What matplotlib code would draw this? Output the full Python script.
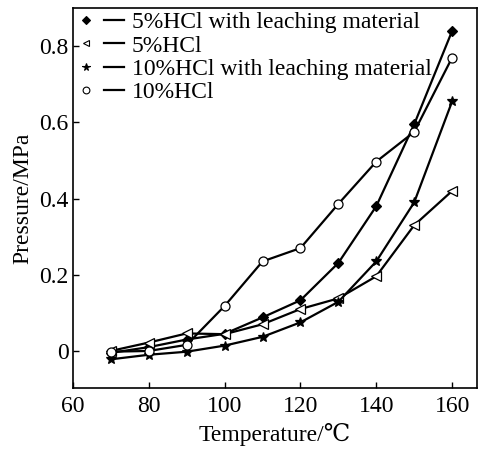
import numpy as np
import matplotlib as mpl
import matplotlib.pyplot as plt
from matplotlib.lines import Line2D
from matplotlib.legend_handler import HandlerTuple
from matplotlib.ticker import FuncFormatter

mpl.rcParams['font.family'] = ['Liberation Serif', 'DejaVu Serif']
mpl.rcParams['font.size'] = 17

temperature = [70, 80, 90, 100, 110, 120, 130, 140, 150, 160]
hcl5_leach = [-0.005, 0.01, 0.03, 0.045, 0.088, 0.133, 0.231, 0.38, 0.595, 0.84]
hcl5 = [0.0, 0.022, 0.046, 0.044, 0.07, 0.11, 0.138, 0.196, 0.33, 0.42]
hcl10_leach = [-0.022, -0.01, -0.002, 0.014, 0.037, 0.075, 0.129, 0.235, 0.39, 0.655]
hcl10 = [-0.002, 0.0, 0.016, 0.118, 0.235, 0.27, 0.386, 0.497, 0.575, 0.77]

labels = ['5%HCl with leaching material', '5%HCl',
          '10%HCl with leaching material', '10%HCl']
series = [hcl5_leach, hcl5, hcl10_leach, hcl10]
markers = ['D', '<', '*', 'o']
msizes = [5.5, 6.5, 7.5, 6.5]
mfaces = ['black', 'white', 'black', 'white']

fig = plt.figure(figsize=(4.86, 4.5), dpi=100)
ax = fig.add_axes([0.150, 0.138, 0.831, 0.844])

handles = []
for y, m, ms, mf in zip(series, markers, msizes, mfaces):
    ax.plot(temperature, y, color='black', lw=1.6, marker=m, ms=ms,
            mfc=mf, mec='black', mew=0.9)
    h_mark = Line2D([], [], ls='none', marker=m, ms=ms * 0.75, mfc=mf,
                    mec='black', mew=0.8)
    h_line = Line2D([], [], color='black', lw=1.6)
    handles.append((h_mark, h_line))

ax.legend(handles, labels, handler_map={tuple: HandlerTuple(ndivide=None, pad=0.3)},
          loc='upper left', frameon=False, handlelength=2.0, handletextpad=0.35,
          labelspacing=0.08, borderaxespad=0.05, borderpad=0.1, fontsize=17)

ax.set_xlim(60, 166.5)
ax.set_ylim(-0.097, 0.9)
ax.set_xticks([60, 80, 100, 120, 140, 160])
ax.set_yticks([0, 0.2, 0.4, 0.6, 0.8])
ax.yaxis.set_major_formatter(FuncFormatter(lambda v, p: '0' if abs(v) < 1e-9 else f'{v:.1f}'))
ax.tick_params(direction='in', length=4, width=1, labelsize=17)
ax.tick_params(axis='x', pad=6)
ax.tick_params(axis='y', pad=3)
for s in ax.spines.values():
    s.set_linewidth(1.2)

ax.set_xlabel('Temperature/\u2103', fontsize=17, labelpad=4)
ax.set_ylabel('Pressure/MPa', fontsize=17, labelpad=4)

fig.savefig('out.png', dpi=100)
